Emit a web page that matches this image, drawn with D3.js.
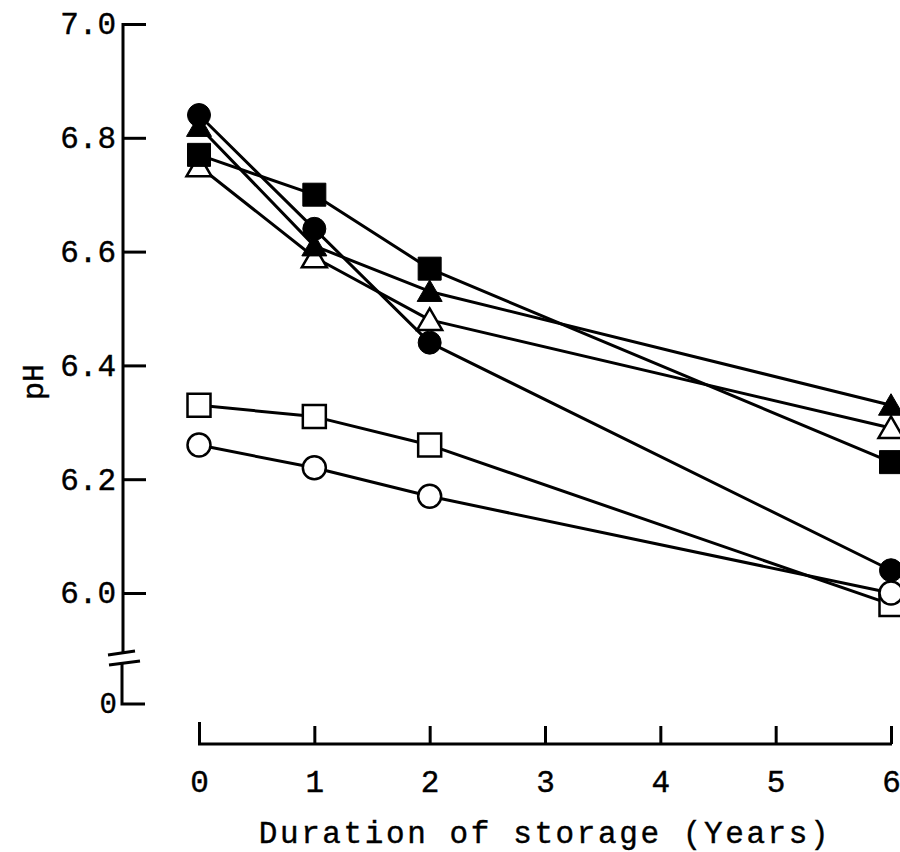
<!DOCTYPE html>
<html>
<head>
<meta charset="utf-8">
<script src="https://cdn.jsdelivr.net/npm/d3@7"></script>
<style>
  html, body { margin: 0; padding: 0; background: #fff; }
  svg text {
    font-family: "Liberation Mono", "Courier New", monospace;
    fill: #000;
    stroke: #000;
    stroke-width: 0.4px;
  }
</style>
</head>
<body>
<svg id="chart" width="900" height="852"></svg>
<script>
// Storage time (years) at which pH was measured
const years = [0, 1, 2, 6];

// pH per sample, named by the marker used to plot it
const filledCircle   = [6.84, 6.64, 6.44, 6.04];
const filledTriangle = [6.82, 6.61, 6.53, 6.33];
const filledSquare   = [6.77, 6.70, 6.57, 6.23];
const openTriangle   = [6.75, 6.59, 6.48, 6.29];
const openSquare     = [6.33, 6.31, 6.26, 5.98];
const openCircle     = [6.26, 6.22, 6.17, 6.00];

// Axis ticks
const xTicks = [0, 1, 2, 3, 4, 5, 6];
const yTicks = [6.0, 6.2, 6.4, 6.6, 6.8, 7.0];
const yBreakLabel = "0";

const xTitle = "Duration of storage (Years)";
const yTitle = "pH";

// Drawing order: later series sit on top where markers overlap
const series = [
  { values: openSquare,     shape: "square",   filled: false },
  { values: openCircle,     shape: "circle",   filled: false },
  { values: openTriangle,   shape: "triangle", filled: false },
  { values: filledSquare,   shape: "square",   filled: true },
  { values: filledTriangle, shape: "triangle", filled: true },
  { values: filledCircle,   shape: "circle",   filled: true }
];

const svg = d3.select("#chart");

const x = d3.scaleLinear().domain([0, 6]).range([199, 891]);
const y = d3.scaleLinear().domain([6.0, 7.0]).range([593, 24]);

const axisX0 = 123;      // vertical axis position
const axisY0 = 744;      // horizontal axis position
const axisStroke = 3;
const tickFont = 31;

// ---- Y axis (broken: 6.0–7.0 then a stub down to 0) ----
const yAxis = d3.axisLeft(y)
  .tickValues(yTicks)
  .tickFormat(d3.format(".1f"))
  .tickSizeInner(-23)
  .tickSizeOuter(0)
  .tickPadding(7);

const gy = svg.append("g").attr("transform", `translate(${axisX0},0)`).call(yAxis);
gy.attr("font-family", null).attr("font-size", null);
gy.select(".domain").remove();
gy.selectAll(".tick line").attr("stroke", "#000").attr("stroke-width", axisStroke);
gy.selectAll(".tick text")
  .attr("font-size", tickFont)
  .attr("dy", "0.32em");

// main spine, from 7.0 down to the break
gy.append("line")
  .attr("x1", 0).attr("x2", 0)
  .attr("y1", y(7.0) - 1).attr("y2", 653)
  .attr("stroke", "#000").attr("stroke-width", axisStroke);

// break marks
gy.append("line").attr("x1", -15).attr("y1", 655).attr("x2", 12).attr("y2", 651)
  .attr("stroke", "#000").attr("stroke-width", axisStroke);
gy.append("line").attr("x1", -14).attr("y1", 665).attr("x2", 17).attr("y2", 661)
  .attr("stroke", "#000").attr("stroke-width", axisStroke);

// stub below the break with the zero tick
gy.append("path")
  .attr("d", "M-1,662V704H22")
  .attr("fill", "none").attr("stroke", "#000").attr("stroke-width", axisStroke);
gy.append("text")
  .attr("x", -6).attr("y", 704).attr("dy", "0.32em")
  .attr("text-anchor", "end").attr("font-size", 29)
  .text(yBreakLabel);

// ---- X axis (ticks point up, labels below) ----
const xAxis = d3.axisBottom(x)
  .tickValues(xTicks)
  .tickFormat(d3.format("d"))
  .tickSizeInner(-18)
  .tickSizeOuter(0)
  .tickPadding(26);

const gx = svg.append("g").attr("transform", `translate(0,${axisY0})`).call(xAxis);
gx.attr("font-family", null).attr("font-size", null);
gx.select(".domain").attr("stroke", "#000").attr("stroke-width", axisStroke)
  .attr("d", `M${x(0) - 1},0H${x(6) + 1}`);
gx.selectAll(".tick line").attr("stroke", "#000").attr("stroke-width", axisStroke)
  .attr("y2", (d, i) => i === 0 ? -22 : -18);
gx.selectAll(".tick text")
  .attr("font-size", tickFont);

// axis titles
svg.append("text")
  .attr("x", 545).attr("y", 843)
  .attr("text-anchor", "middle")
  .attr("font-size", 31)
  .attr("letter-spacing", 2.6)
  .text(xTitle);

svg.append("text")
  .attr("transform", "translate(43,382) rotate(-90)")
  .attr("text-anchor", "middle")
  .attr("font-size", 30)
  .text(yTitle);

// ---- Data lines ----
const line = d3.line()
  .x((d, i) => x(years[i]))
  .y(d => y(d));

svg.append("g").selectAll("path")
  .data(series)
  .join("path")
  .attr("d", s => line(s.values))
  .attr("fill", "none")
  .attr("stroke", "#000")
  .attr("stroke-width", 3)
  .attr("stroke-linejoin", "round");

// ---- Markers ----
function markerPath(shape) {
  if (shape === "square") {
    const h = 11.5;
    return `M${-h},${-h}H${h}V${h}H${-h}Z`;
  }
  if (shape === "triangle") {
    const w = 12.5, top = -11.5, base = 10;
    return `M0,${top}L${w},${base}L${-w},${base}Z`;
  }
  return d3.symbol(d3.symbolCircle, Math.PI * 11.5 * 11.5)();
}

const mg = svg.append("g");
series.forEach(s => {
  mg.append("g").selectAll("path")
    .data(s.values)
    .join("path")
    .attr("transform", (d, i) => `translate(${x(years[i])},${y(d)})`)
    .attr("d", markerPath(s.shape))
    .attr("fill", s.filled ? "#000" : "#fff")
    .attr("stroke", "#000")
    .attr("stroke-width", s.filled ? 1 : 2.5)
    .attr("stroke-linejoin", "miter");
});
</script>
</body>
</html>
